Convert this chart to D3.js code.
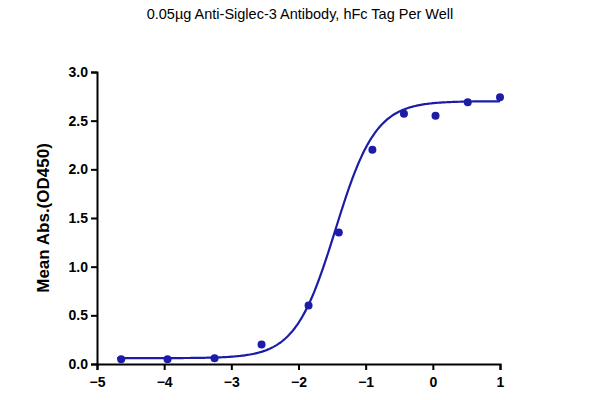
<!DOCTYPE html>
<html><head><meta charset="utf-8">
<script src="https://cdn.jsdelivr.net/npm/d3@7"></script>
<style>body{margin:0;background:#fff}text{font-family:"Liberation Sans",Arial,sans-serif}</style>
</head><body>
<svg id="c" width="600" height="400"></svg>
<script>
// measured points
const xs = [-4.64, -3.95, -3.25, -2.55, -1.85, -1.4, -0.9, -0.43, 0.04, 0.52, 1.0];
const ys = [0.05, 0.05, 0.06, 0.2, 0.6, 1.35, 2.2, 2.57, 2.55, 2.69, 2.74];
const xTicks = [-5, -4, -3, -2, -1, 0, 1];
const yTicks = [0, 0.5, 1.0, 1.5, 2.0, 2.5, 3.0];
// 4PL fit parameters
const fitBottom = 0.06, fitTop = 2.70, logEC50 = -1.45, hill = 1.45;

const col = "#1c1ca8";
let svg = d3.select("#c");
let x = d3.scaleLinear().domain([-5, 1]).range([97, 500]);
let y = d3.scaleLinear().domain([0, 3]).range([364, 72]);

svg.append("text").attr("x", 300).attr("y", 19).attr("text-anchor", "middle")
    .attr("font-size", 14.5).text("0.05µg Anti-Siglec-3 Antibody, hFc Tag Per Well");

let gx = svg.append("g").attr("transform", "translate(0,364)")
    .call(d3.axisBottom(x).tickValues(xTicks).tickSize(6).tickFormat(d3.format("d")));
let gy = svg.append("g").attr("transform", "translate(97,0)")
    .call(d3.axisLeft(y).tickValues(yTicks).tickSize(6).tickFormat(d3.format(".1f")));
[gx, gy].forEach(g => {
    g.selectAll("path,line").attr("stroke", "#000").attr("stroke-width", 2);
    g.selectAll("text").attr("font-size", 14).attr("font-weight", "bold").attr("fill", "#000")
        .attr("font-family", "Liberation Sans, Arial, sans-serif");
});
gx.selectAll("text").attr("dy", "1em");

svg.append("text").attr("transform", "translate(49,218) rotate(-90)")
    .attr("text-anchor", "middle").attr("font-size", 17).attr("font-weight", "bold")
    .text("Mean Abs.(OD450)");

let f = v => fitBottom + (fitTop - fitBottom) / (1 + Math.pow(10, (logEC50 - v) * hill));
let curve = d3.range(-4.7, 1.0001, 0.02).map(v => [v, f(v)]);
svg.append("path").datum(curve)
    .attr("d", d3.line().x(d => x(d[0])).y(d => y(d[1])))
    .attr("fill", "none").attr("stroke", col).attr("stroke-width", 2.2);

svg.selectAll("circle.p").data(xs).enter().append("circle")
    .attr("cx", d => x(d)).attr("cy", (d, i) => y(ys[i])).attr("r", 4).attr("fill", col);
</script>
</body></html>
